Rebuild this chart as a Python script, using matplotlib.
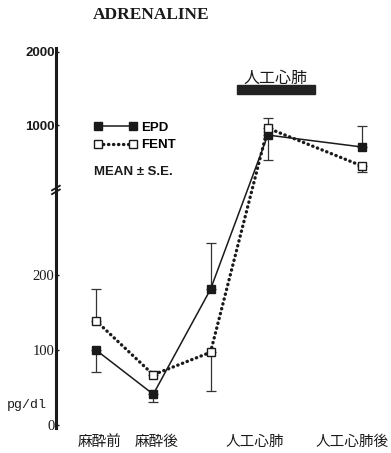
import numpy as np
import matplotlib.pyplot as plt
from matplotlib import transforms
from matplotlib.patches import Rectangle

# sampling stages (x) and plasma adrenaline, pg/dl
stage_x = [0, 1, 2, 3, 4.65]
epd = [100, 41, 181, 910, 813]
epd_se_lo = [29, 10, 0, 190, 0]
epd_se_hi = [0, 0, 62, 0, 178]
fent = [139, 67, 97, 972, 679]
fent_se_lo = [0, 0, 52, 0, 37]
fent_se_hi = [43, 5, 0, 96, 0]

ytick_vals = [0, 100, 200, 1000, 2000]
stage_labels = ['麻酔前', '麻酔後', '人工心肺', '人工心肺後']
label_pos = [0.07, 1.06, 2.77, 4.47]
cpb_span = (2.46, 3.82)

INK = '#1a1a1a'
BOLD_SANS = ['Liberation Sans Narrow', 'Liberation Sans']

# broken y axis: linear up to LO_END, log above HI_START
K = 0.75
LO_END = 313.0
HI_START = 547.0
DEC = 244.2
GAP = 1.25


def fwd(v):
    v = np.asarray(v, dtype=float)
    lo = v * K
    br = LO_END * K + (v - LO_END) * (GAP / (HI_START - LO_END))
    hi = 300 + DEC * np.log10(np.clip(v, 1e-6, None) / 1000)
    return np.where(v <= LO_END, lo, np.where(v < HI_START, br, hi))


def inv(u):
    u = np.asarray(u, dtype=float)
    lo = u / K
    br = LO_END + (u - LO_END * K) * ((HI_START - LO_END) / GAP)
    hi = 1000 * 10 ** np.clip((u - 300) / DEC, -10, 10)
    return np.where(u <= LO_END * K, lo, np.where(u < LO_END * K + GAP, br, hi))


fig = plt.figure(figsize=(3.91, 4.53), dpi=100)
ax = fig.add_axes([0.143, 0.0552, 0.829, 0.839])
ax.set_yscale('function', functions=(fwd, inv))
ax.set_xlim(-0.7, 4.96)
ax.set_ylim(-4, 2070)

for s in ['top', 'right', 'bottom']:
    ax.spines[s].set_visible(False)
ax.spines['left'].set_linewidth(2.2)
ax.spines['left'].set_color(INK)


def err(x, y, lo, hi):
    x = np.array(x); y = np.array(y); lo = np.array(lo); hi = np.array(hi)
    for m, e in [(lo > 0, [lo, np.zeros_like(lo)]), (hi > 0, [np.zeros_like(hi), hi])]:
        ax.errorbar(x[m], y[m], yerr=[e[0][m], e[1][m]], fmt='none', ecolor='#333333',
                    elinewidth=0.9, capsize=3.6, capthick=0.9, zorder=2)


err(stage_x, epd, epd_se_lo, epd_se_hi)
err(stage_x, fent, fent_se_lo, fent_se_hi)

h_epd, = ax.plot(stage_x, epd, '-', color=INK, lw=1.1, marker='s', ms=5.5,
                 mfc=INK, mec=INK, zorder=3, label='EPD')
h_fent, = ax.plot(stage_x, fent, color=INK, lw=2.4, linestyle=(0, (0.1, 1.4)),
                  dash_capstyle='round', marker='s', ms=5.5, mfc='white',
                  mec=INK, mew=1, zorder=4, label='FENT')

# axis break mark
span = fwd(2070) - fwd(-4)
yb = float((fwd(LO_END) - fwd(-4)) / span)
for dy in (-0.004, 0.006):
    ax.plot([-0.012, 0.012], [yb + dy - 0.006, yb + dy + 0.006], color=INK, lw=1.3,
            transform=ax.transAxes, clip_on=False)

# ticks
ax.set_yticks(ytick_vals, labels=[str(v) for v in ytick_vals])
ax.minorticks_off()
ax.tick_params(axis='y', direction='in', length=2, width=1, pad=1, colors=INK)
for lab, v in zip(ax.get_yticklabels(), ytick_vals):
    if v >= 1000:
        lab.set_fontfamily(BOLD_SANS)
        lab.set_fontweight('bold')
        lab.set_fontsize(9.5)
    else:
        lab.set_fontfamily('Liberation Serif')
        lab.set_fontsize(10.5)

ax.set_xticks(label_pos, labels=stage_labels)
ax.tick_params(axis='x', length=0, pad=5)
for lab in ax.get_xticklabels():
    lab.set_fontfamily('Noto Sans CJK JP')
    lab.set_fontsize(10.5)
    lab.set_color(INK)

# CPB period bar
bt = transforms.blended_transform_factory(ax.transData, ax.transAxes)
ax.add_patch(Rectangle((cpb_span[0], 0.879), cpb_span[1] - cpb_span[0], 0.024,
                       transform=bt, color='#222222', clip_on=False))
ax.text(sum(cpb_span) / 2, 0.897, '人工心肺', transform=bt, ha='center', va='bottom',
        fontfamily='Noto Sans CJK JP', fontsize=11.5, color=INK)

leg = ax.legend(handles=[h_epd, h_fent], numpoints=2, frameon=False,
                loc='upper left', bbox_to_anchor=(0.117, 0.806), borderaxespad=0,
                borderpad=0, handlelength=3.3, handletextpad=0.3, labelspacing=0.4,
                prop={'family': BOLD_SANS, 'weight': 'bold', 'size': 9.5})
ax.text(0.118, 0.674, 'MEAN ± S.E.', transform=ax.transAxes, va='center', ha='left',
        fontfamily=BOLD_SANS, fontweight='bold', fontsize=9.5, color=INK)

fig.text(0.386, 0.966, 'ADRENALINE', ha='center', va='center',
         fontfamily='Liberation Serif', fontweight='bold', fontsize=12.5, color=INK)
fig.text(27 / 391, 1 - 405 / 453, 'pg/dl', ha='center', va='center',
         fontfamily='Liberation Mono', fontsize=9.5, color=INK)

fig.savefig('out.png', dpi=100, facecolor='white')
